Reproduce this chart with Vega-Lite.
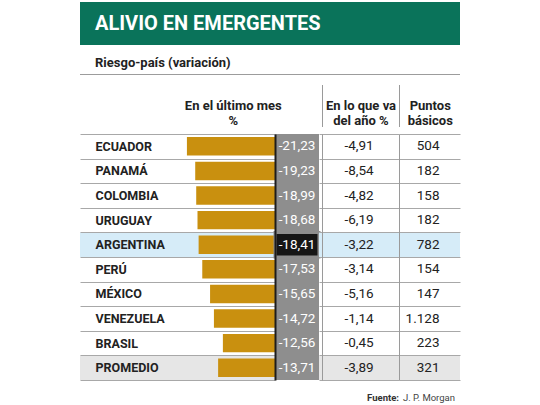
{
  "$schema": "https://vega.github.io/schema/vega-lite/v6.json",
  "padding": {"left": 80, "top": 2, "right": 0, "bottom": 0},
  "background": "white",
  "datasets": {
    "tabla": [
      {"pais": "ECUADOR", "mes": -21.23, "anio": -4.91, "puntos": 504},
      {"pais": "PANAMÁ", "mes": -19.23, "anio": -8.54, "puntos": 182},
      {"pais": "COLOMBIA", "mes": -18.99, "anio": -4.82, "puntos": 158},
      {"pais": "URUGUAY", "mes": -18.68, "anio": -6.19, "puntos": 182},
      {"pais": "ARGENTINA", "mes": -18.41, "anio": -3.22, "puntos": 782},
      {"pais": "PERÚ", "mes": -17.53, "anio": -3.14, "puntos": 154},
      {"pais": "MÉXICO", "mes": -15.65, "anio": -5.16, "puntos": 147},
      {"pais": "VENEZUELA", "mes": -14.72, "anio": -1.14, "puntos": 1128},
      {"pais": "BRASIL", "mes": -12.56, "anio": -0.45, "puntos": 223},
      {"pais": "PROMEDIO", "mes": -13.71, "anio": -3.89, "puntos": 321}
    ]
  },
  "spacing": 0,
  "vconcat": [
    {
      "width": 380, "height": 43,
      "view": {"fill": "#0a735a", "stroke": null},
      "data": {"values": [{"texto": "ALIVIO EN EMERGENTES"}]},
      "mark": {"type": "text", "align": "left", "baseline": "middle", "dx": -175, "color": "white", "fontSize": 20, "fontWeight": "bold", "font": "Roboto, sans-serif"},
      "encoding": {"text": {"field": "texto"}}
    },
    {
      "width": 380, "height": 29,
      "data": {"values": [{"texto": "Riesgo-país (variación)"}]},
      "mark": {"type": "text", "align": "left", "baseline": "alphabetic", "dx": -175, "dy": 7, "color": "#222222", "fontSize": 13, "fontWeight": "bold", "font": "Roboto, sans-serif"},
      "encoding": {"text": {"field": "texto"}}
    },
    {
      "width": 380, "height": 1,
      "data": {"values": []}, "mark": "rule", "encoding": {},
      "view": {"fill": "#9c9c9c", "stroke": null}
    },
    {
      "width": 380, "height": 10,
      "data": {"values": []}, "mark": "rule", "encoding": {}
    },
    {
      "spacing": 0, "bounds": "flush",
      "hconcat": [
        {"width": 65, "height": 42, "data": {"values": []}, "mark": "rule", "encoding": {}},
        {
          "width": 176.5, "height": 42,
          "data": {"values": [{"texto": "En el último mes\n%"}]},
          "mark": {"type": "text", "align": "center", "baseline": "middle", "lineBreak": "\n", "lineHeight": 15, "color": "#222222", "fontSize": 13, "fontWeight": "bold", "font": "Roboto, sans-serif"},
          "encoding": {"text": {"field": "texto"}}
        },
        {"width": 1, "height": 42, "data": {"values": []}, "mark": "rule", "encoding": {}, "view": {"fill": "#9a9a9a", "stroke": null}},
        {
          "width": 76, "height": 42,
          "data": {"values": [{"texto": "En lo que va\ndel año %"}]},
          "mark": {"type": "text", "align": "center", "baseline": "middle", "lineBreak": "\n", "lineHeight": 15, "color": "#222222", "fontSize": 13, "fontWeight": "bold", "font": "Roboto, sans-serif"},
          "encoding": {"text": {"field": "texto"}}
        },
        {"width": 1, "height": 42, "data": {"values": []}, "mark": "rule", "encoding": {}, "view": {"fill": "#9a9a9a", "stroke": null}},
        {
          "width": 60.5, "height": 42,
          "data": {"values": [{"texto": "Puntos\nbásicos"}]},
          "mark": {"type": "text", "align": "center", "baseline": "middle", "lineBreak": "\n", "lineHeight": 15, "color": "#222222", "fontSize": 13, "fontWeight": "bold", "font": "Roboto, sans-serif"},
          "encoding": {"text": {"field": "texto"}}
        }
      ]
    },
    {
      "spacing": 0, "bounds": "flush",
      "hconcat": [
        {
          "width": 195, "height": 246,
          "data": {"name": "tabla"},
          "layer": [
            {
              "mark": {"type": "rect"},
              "encoding": {
                "y": {"field": "pais", "type": "nominal", "sort": null, "scale": {"paddingInner": 0, "paddingOuter": 0},
                  "axis": {"orient": "left", "title": null, "domain": false, "ticks": false, "labelAlign": "left", "labelPadding": -15, "labelFont": "Roboto, sans-serif", "labelFontSize": 12.5, "labelFontWeight": "bold", "labelColor": "#222222", "grid": true, "gridColor": "#a8a8a8", "gridWidth": 1, "tickBand": "extent", "zindex": 1}},
                "fill": {"condition": [{"test": "datum.pais === 'ARGENTINA'", "value": "#d6ecf8"}, {"test": "datum.pais === 'PROMEDIO'", "value": "#e6e6e6"}], "value": "transparent"}
              }
            },
            {
              "mark": {"type": "bar", "color": "#c9900f", "height": {"band": 0.75}},
              "encoding": {
                "y": {"field": "pais", "type": "nominal", "sort": null, "scale": {"paddingInner": 0, "paddingOuter": 0},
                  "axis": {"orient": "left", "title": null, "domain": false, "ticks": false, "labelAlign": "left", "labelPadding": -15, "labelFont": "Roboto, sans-serif", "labelFontSize": 12.5, "labelFontWeight": "bold", "labelColor": "#222222", "grid": true, "gridColor": "#a8a8a8", "gridWidth": 1, "tickBand": "extent", "zindex": 1}},
                "x": {"field": "mes", "type": "quantitative", "scale": {"domain": [-47, 0], "nice": false}, "axis": null}
              }
            }
          ]
        },
        {
          "width": 44, "height": 246,
          "data": {"name": "tabla"},
          "view": {"fill": "#8e8e8e", "stroke": null},
          "layer": [
            {
              "mark": {"type": "rect", "strokeWidth": 3},
              "encoding": {
                "y": {"field": "pais", "type": "nominal", "sort": null, "scale": {"paddingInner": 0, "paddingOuter": 0},
                  "axis": {"orient": "left", "title": null, "domain": true, "domainColor": "#1c1c1c", "domainWidth": 2, "ticks": false, "labels": false, "grid": false, "zindex": 1}},
                "fill": {"condition": {"test": "datum.pais === 'ARGENTINA'", "value": "#161616"}, "value": "transparent"},
                "stroke": {"condition": {"test": "datum.pais === 'ARGENTINA'", "value": "#8e8e8e"}, "value": "transparent"}
              }
            },
            {
              "mark": {"type": "text", "color": "white", "font": "Roboto, sans-serif", "fontSize": 13.5},
              "encoding": {
                "y": {"field": "pais", "type": "nominal", "sort": null, "scale": {"paddingInner": 0, "paddingOuter": 0},
                  "axis": {"orient": "left", "title": null, "domain": true, "domainColor": "#1c1c1c", "domainWidth": 2, "ticks": false, "labels": false, "grid": false, "zindex": 1}},
                "text": {"field": "mes", "type": "quantitative", "format": ".2f"}
              }
            }
          ]
        },
        {
          "width": 80, "height": 246,
          "data": {"name": "tabla"},
          "layer": [
            {
              "mark": {"type": "rect"},
              "encoding": {
                "y": {"field": "pais", "type": "nominal", "sort": null, "scale": {"paddingInner": 0, "paddingOuter": 0},
                  "axis": {"orient": "left", "title": null, "domain": true, "domainColor": "#9a9a9a", "domainWidth": 1, "offset": -3, "ticks": false, "labels": false, "grid": true, "gridColor": "#a8a8a8", "gridWidth": 1, "tickBand": "extent", "zindex": 1}},
                "fill": {"condition": [{"test": "datum.pais === 'ARGENTINA'", "value": "#d6ecf8"}, {"test": "datum.pais === 'PROMEDIO'", "value": "#e6e6e6"}], "value": "transparent"}
              }
            },
            {
              "mark": {"type": "text", "color": "#222222", "font": "Roboto, sans-serif", "fontSize": 13.5},
              "encoding": {
                "y": {"field": "pais", "type": "nominal", "sort": null, "scale": {"paddingInner": 0, "paddingOuter": 0},
                  "axis": {"orient": "left", "title": null, "domain": true, "domainColor": "#9a9a9a", "domainWidth": 1, "offset": -3, "ticks": false, "labels": false, "grid": true, "gridColor": "#a8a8a8", "gridWidth": 1, "tickBand": "extent", "zindex": 1}},
                "text": {"field": "anio", "type": "quantitative", "format": ".2f"}
              }
            }
          ]
        },
        {
          "width": 61, "height": 246,
          "data": {"name": "tabla"},
          "layer": [
            {
              "mark": {"type": "rect"},
              "encoding": {
                "y": {"field": "pais", "type": "nominal", "sort": null, "scale": {"paddingInner": 0, "paddingOuter": 0},
                  "axis": {"orient": "left", "title": null, "domain": true, "domainColor": "#9a9a9a", "domainWidth": 1, "ticks": false, "labels": false, "grid": true, "gridColor": "#a8a8a8", "gridWidth": 1, "tickBand": "extent", "zindex": 1}},
                "fill": {"condition": [{"test": "datum.pais === 'ARGENTINA'", "value": "#d6ecf8"}, {"test": "datum.pais === 'PROMEDIO'", "value": "#e6e6e6"}], "value": "transparent"}
              }
            },
            {
              "mark": {"type": "text", "color": "#222222", "align": "right", "dx": 10, "font": "Roboto, sans-serif", "fontSize": 13.5},
              "encoding": {
                "y": {"field": "pais", "type": "nominal", "sort": null, "scale": {"paddingInner": 0, "paddingOuter": 0},
                  "axis": {"orient": "left", "title": null, "domain": true, "domainColor": "#9a9a9a", "domainWidth": 1, "ticks": false, "labels": false, "grid": true, "gridColor": "#a8a8a8", "gridWidth": 1, "tickBand": "extent", "zindex": 1}},
                "text": {"field": "puntos", "type": "quantitative", "format": ",d"}
              }
            }
          ]
        }
      ]
    },
    {
      "width": 380, "height": 23,
      "data": {"values": [{"rotulo": "Fuente:", "fuente": "J. P. Morgan"}]},
      "layer": [
        {
          "mark": {"type": "text", "align": "right", "baseline": "middle", "dx": 129, "dy": 4.5, "color": "#333333", "fontSize": 9.5, "fontWeight": "bold", "font": "Roboto, sans-serif"},
          "encoding": {"text": {"field": "rotulo"}}
        },
        {
          "mark": {"type": "text", "align": "right", "baseline": "middle", "dx": 185, "dy": 4.5, "color": "#444444", "fontSize": 9.5, "font": "Roboto, sans-serif"},
          "encoding": {"text": {"field": "fuente"}}
        }
      ]
    },
    {
      "width": 380, "height": 10,
      "data": {"values": []}, "mark": "rule", "encoding": {},
      "view": {"fill": "#0a735a", "stroke": null}
    }
  ],
  "config": {
    "view": {"stroke": null},
    "font": "Roboto, sans-serif",
    "locale": {"number": {"decimal": ",", "thousands": ".", "grouping": [3], "currency": ["", ""], "minus": "-"}}
  }
}
